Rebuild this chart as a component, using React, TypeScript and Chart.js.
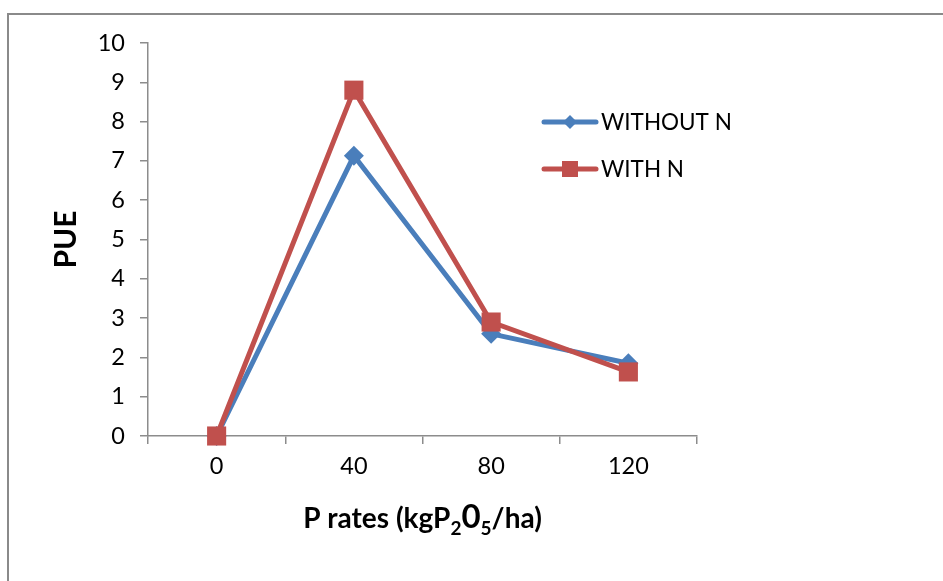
import React, { useEffect, useRef } from "react";
import { Chart, registerables } from "chart.js";

Chart.register(...registerables);

const categories: string[] = ["0", "40", "80", "120"];
const withoutN: number[] = [0, 7.13, 2.6, 1.85];
const withN: number[] = [0, 8.8, 2.9, 1.63];
const seriesLabels: string[] = ["WITHOUT N", "WITH N"];
const yMin = 0;
const yMax = 10;
const yStep = 1;
const yTitle = "PUE";
const xTitleParts: { t: string; kind: "main" | "sub" | "big" }[] = [
  { t: "P rates (kgP", kind: "main" },
  { t: "2", kind: "sub" },
  { t: "0", kind: "big" },
  { t: "5", kind: "sub" },
  { t: "/ha)", kind: "main" },
];

const BLUE = "#4a7ebb";
const RED = "#c0504d";
const AXIS = "#8c8c8c";
const FONT = "Lato, 'Open Sans', sans-serif";

const overlayPlugin = {
  id: "overlay",
  afterDraw(chart: any) {
    const ctx: CanvasRenderingContext2D = chart.ctx;
    const area = chart.chartArea;
    ctx.save();
    // Y title
    ctx.fillStyle = "#000";
    ctx.font = `bold 30px ${FONT}`;
    ctx.textAlign = "center";
    ctx.textBaseline = "middle";
    ctx.translate(66, (area.top + area.bottom) / 2);
    ctx.rotate(-Math.PI / 2);
    ctx.fillText(yTitle, 0, 0);
    ctx.restore();

    // X title with subscripts
    ctx.save();
    ctx.fillStyle = "#000";
    ctx.textBaseline = "alphabetic";
    ctx.textAlign = "left";
    const fontFor = (k: string) =>
      k === "main" ? `bold 28px ${FONT}` : k === "sub" ? `bold 19px ${FONT}` : `bold 33px ${FONT}`;
    const dyFor = (k: string) => (k === "sub" ? 7 : 0);
    let total = 0;
    for (const p of xTitleParts) {
      ctx.font = fontFor(p.kind);
      total += ctx.measureText(p.t).width;
    }
    let x = (area.left + area.right) / 2 - total / 2;
    const base = 528;
    for (const p of xTitleParts) {
      ctx.font = fontFor(p.kind);
      ctx.fillText(p.t, x, base + dyFor(p.kind));
      x += ctx.measureText(p.t).width;
    }
    ctx.restore();

    // Legend
    ctx.save();
    const items = [
      { label: chart.data.datasets[0].label, color: BLUE, style: "diamond", y: 122 },
      { label: chart.data.datasets[1].label, color: RED, style: "square", y: 169 },
    ];
    for (const it of items) {
      ctx.strokeStyle = it.color;
      ctx.lineWidth = 5;
      ctx.lineCap = "round";
      ctx.beginPath();
      ctx.moveTo(544, it.y);
      ctx.lineTo(596, it.y);
      ctx.stroke();
      ctx.fillStyle = it.color;
      const cx = 570;
      if (it.style === "diamond") {
        const r = 7;
        ctx.beginPath();
        ctx.moveTo(cx, it.y - r);
        ctx.lineTo(cx + r, it.y);
        ctx.lineTo(cx, it.y + r);
        ctx.lineTo(cx - r, it.y);
        ctx.closePath();
        ctx.fill();
      } else {
        const s = 8;
        ctx.fillRect(cx - s, it.y - s, 2 * s, 2 * s);
      }
      ctx.fillStyle = "#000";
      ctx.font = `22.5px ${FONT}`;
      ctx.textAlign = "left";
      ctx.textBaseline = "middle";
      ctx.fillText(it.label, 601, it.y + 1);
    }
    ctx.restore();
  },
};

export default function App() {
  const ref = useRef<HTMLCanvasElement | null>(null);
  useEffect(() => {
    if (!ref.current) return;
    const chart = new Chart(ref.current, {
      type: "line",
      data: {
        labels: categories,
        datasets: [
          {
            label: seriesLabels[0],
            data: withoutN,
            borderColor: BLUE,
            backgroundColor: BLUE,
            borderWidth: 5,
            pointStyle: "rectRot",
            pointRadius: 10,
            pointBorderWidth: 0,
            pointBackgroundColor: BLUE,
            pointBorderColor: BLUE,
            tension: 0,
            clip: false as any,
            order: 1,
          },
          {
            label: seriesLabels[1],
            data: withN,
            borderColor: RED,
            backgroundColor: RED,
            borderWidth: 5,
            pointStyle: "rect",
            pointRadius: 13.5,
            pointBorderWidth: 0,
            pointBackgroundColor: RED,
            pointBorderColor: RED,
            tension: 0,
            clip: false as any,
            order: 0,
          },
        ],
      },
      options: {
        responsive: false,
        animation: false,
        layout: { padding: { top: 43, right: 246, left: 0, bottom: 0 } },
        plugins: { legend: { display: false }, tooltip: { enabled: false } },
        scales: {
          x: {
            type: "category",
            offset: true,
            grid: {
              offset: true,
              drawOnChartArea: false,
              drawTicks: true,
              tickLength: 8,
              color: AXIS,
              lineWidth: 1.5,
            },
            border: { color: AXIS, width: 1.5 },
            ticks: { color: "#000", font: { family: FONT, size: 23.5 }, padding: 8, maxRotation: 0 },
            afterFit(scale: any) {
              scale.height = 145;
            },
          },
          y: {
            min: yMin,
            max: yMax,
            grid: {
              drawOnChartArea: false,
              drawTicks: true,
              tickLength: 8,
              color: AXIS,
              lineWidth: 1.5,
            },
            border: { color: AXIS, width: 1.5 },
            ticks: { stepSize: yStep, color: "#000", font: { family: FONT, size: 23.5 }, padding: 15 },
            afterFit(scale: any) {
              scale.width = 148;
            },
          },
        },
      },
      plugins: [overlayPlugin],
    });
    return () => chart.destroy();
  }, []);

  return (
    <div
      style={{
        position: "fixed",
        left: 0,
        top: 0,
        width: 943,
        height: 581,
        overflow: "hidden",
        background: "#fff",
      }}
    >
      <div
        style={{
          position: "absolute",
          left: 7,
          top: 13,
          width: 1200,
          height: 1200,
          borderTop: "2px solid #8a8a8a",
          borderLeft: "2px solid #8a8a8a",
        }}
      />
      <canvas ref={ref} width={943} height={581} style={{ position: "absolute", left: 0, top: 0 }} />
    </div>
  );
}
